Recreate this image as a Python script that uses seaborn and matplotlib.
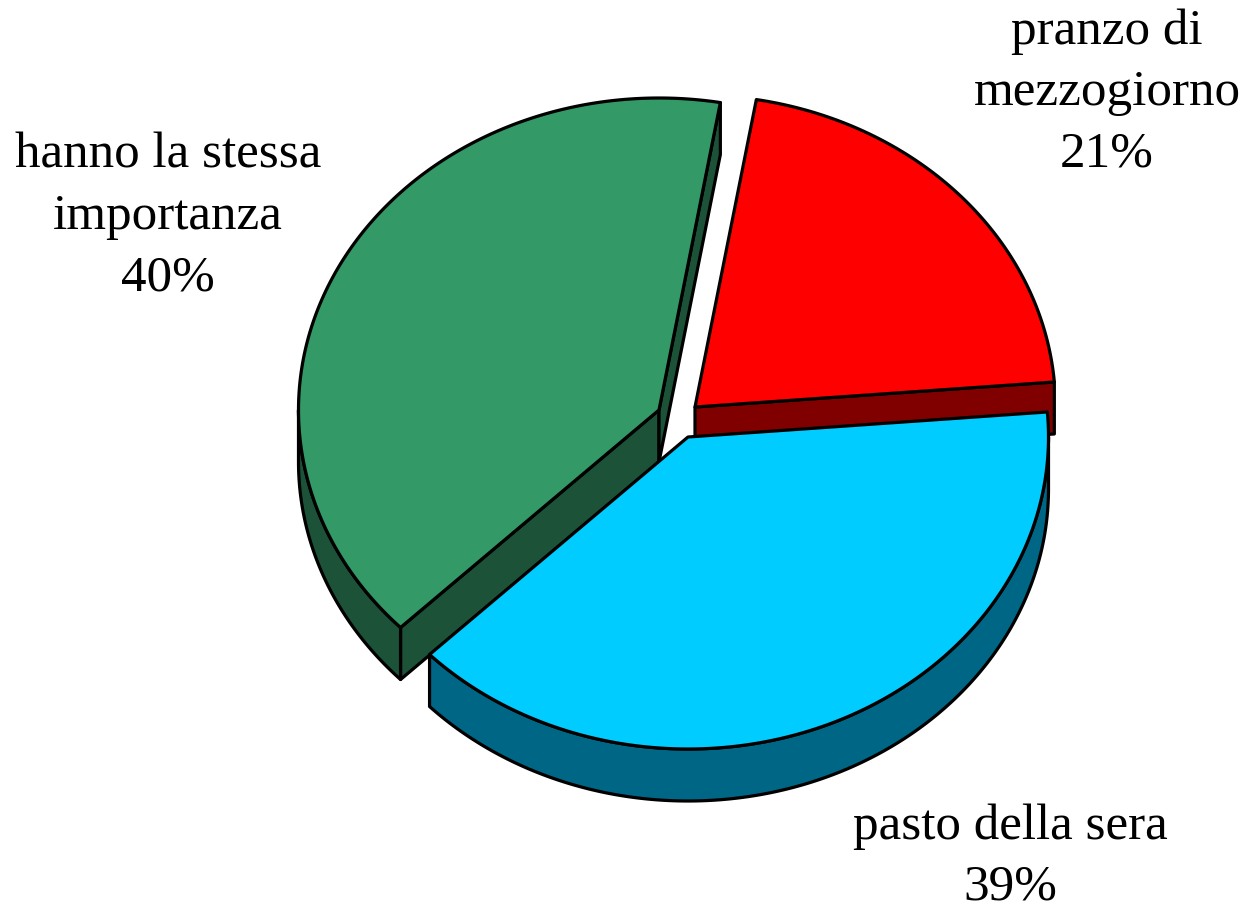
import numpy as np
import matplotlib
matplotlib.use("Agg")
import matplotlib.pyplot as plt
from matplotlib.patches import Polygon
import seaborn as sns

# Survey shares, clockwise from the top of the pie
labels = ["pranzo di\nmezzogiorno", "pasto della sera", "hanno la stessa\nimportanza"]
shares = [21, 39, 40]
top_colors = ["#FF0000", "#00CCFF", "#339966"]
side_colors = ["#800000", "#006685", "#1C5338"]

# Pie geometry in pixel-like units
START_ANGLE = 9.8
RX, RY = 360.5, 312.0
DEPTH = 52.0
slice_centers = [(695, 407), (688, 437), (659, 410)]
label_positions = [(1107, 93), (1010, 857), (168, 217)]
draw_order = [2, 0, 1]

sns.set_theme(style="white")
plt.rcParams["font.family"] = ["Liberation Serif", "DejaVu Serif"]

fig = plt.figure(figsize=(12.46, 9.09), dpi=100)
ax = fig.add_axes([0, 0, 1, 1])
ax.set_xlim(0, 1246)
ax.set_ylim(909, 0)
ax.axis("off")
sns.despine(ax=ax, left=True, bottom=True)

edge = dict(edgecolor="black", linewidth=2.3, joinstyle="round")


def rim(center, t0, t1):
    """Points along the elliptical edge between two clockwise angles."""
    t = np.radians(np.linspace(t0, t1, max(int(abs(t1 - t0)) * 2, 2)))
    return np.column_stack((center[0] + RX * np.sin(t), center[1] - RY * np.cos(t)))


def lowered(points):
    return points + np.array([0.0, DEPTH])


spans = np.cumsum([0.0] + [s / sum(shares) * 360.0 for s in shares]) + START_ANGLE

for i in draw_order:
    c = np.array(slice_centers[i], dtype=float)
    a, b = spans[i], spans[i + 1]

    # Cut faces that turn toward the viewer
    for angle, visible in ((a, np.sin(np.radians(a)) < 0), (b, np.sin(np.radians(b)) > 0)):
        if visible:
            tip = rim(c, angle, angle + 1e-6)[:1]
            face = np.vstack((c, tip, lowered(tip), lowered(c[None, :])))
            ax.add_patch(Polygon(face, closed=True, facecolor=side_colors[i], **edge))

    # Outer wall, limited to the front half of the ellipse
    lo, hi = max(a, 90.0), min(b, 270.0)
    if hi > lo:
        arc = rim(c, lo, hi)
        wall = np.vstack((arc, lowered(arc)[::-1]))
        ax.add_patch(Polygon(wall, closed=True, facecolor=side_colors[i], **edge))

    # Top face
    top = np.vstack((c, rim(c, a, b)))
    ax.add_patch(Polygon(top, closed=True, facecolor=top_colors[i], **edge))

for label, share, (x, y) in zip(labels, shares, label_positions):
    ax.text(x, y, f"{label}\n{share}%", ha="center", va="center", multialignment="center",
            fontsize=36.8, color="black", linespacing=1.42)

fig.savefig("out.png", dpi=100, facecolor="white")
